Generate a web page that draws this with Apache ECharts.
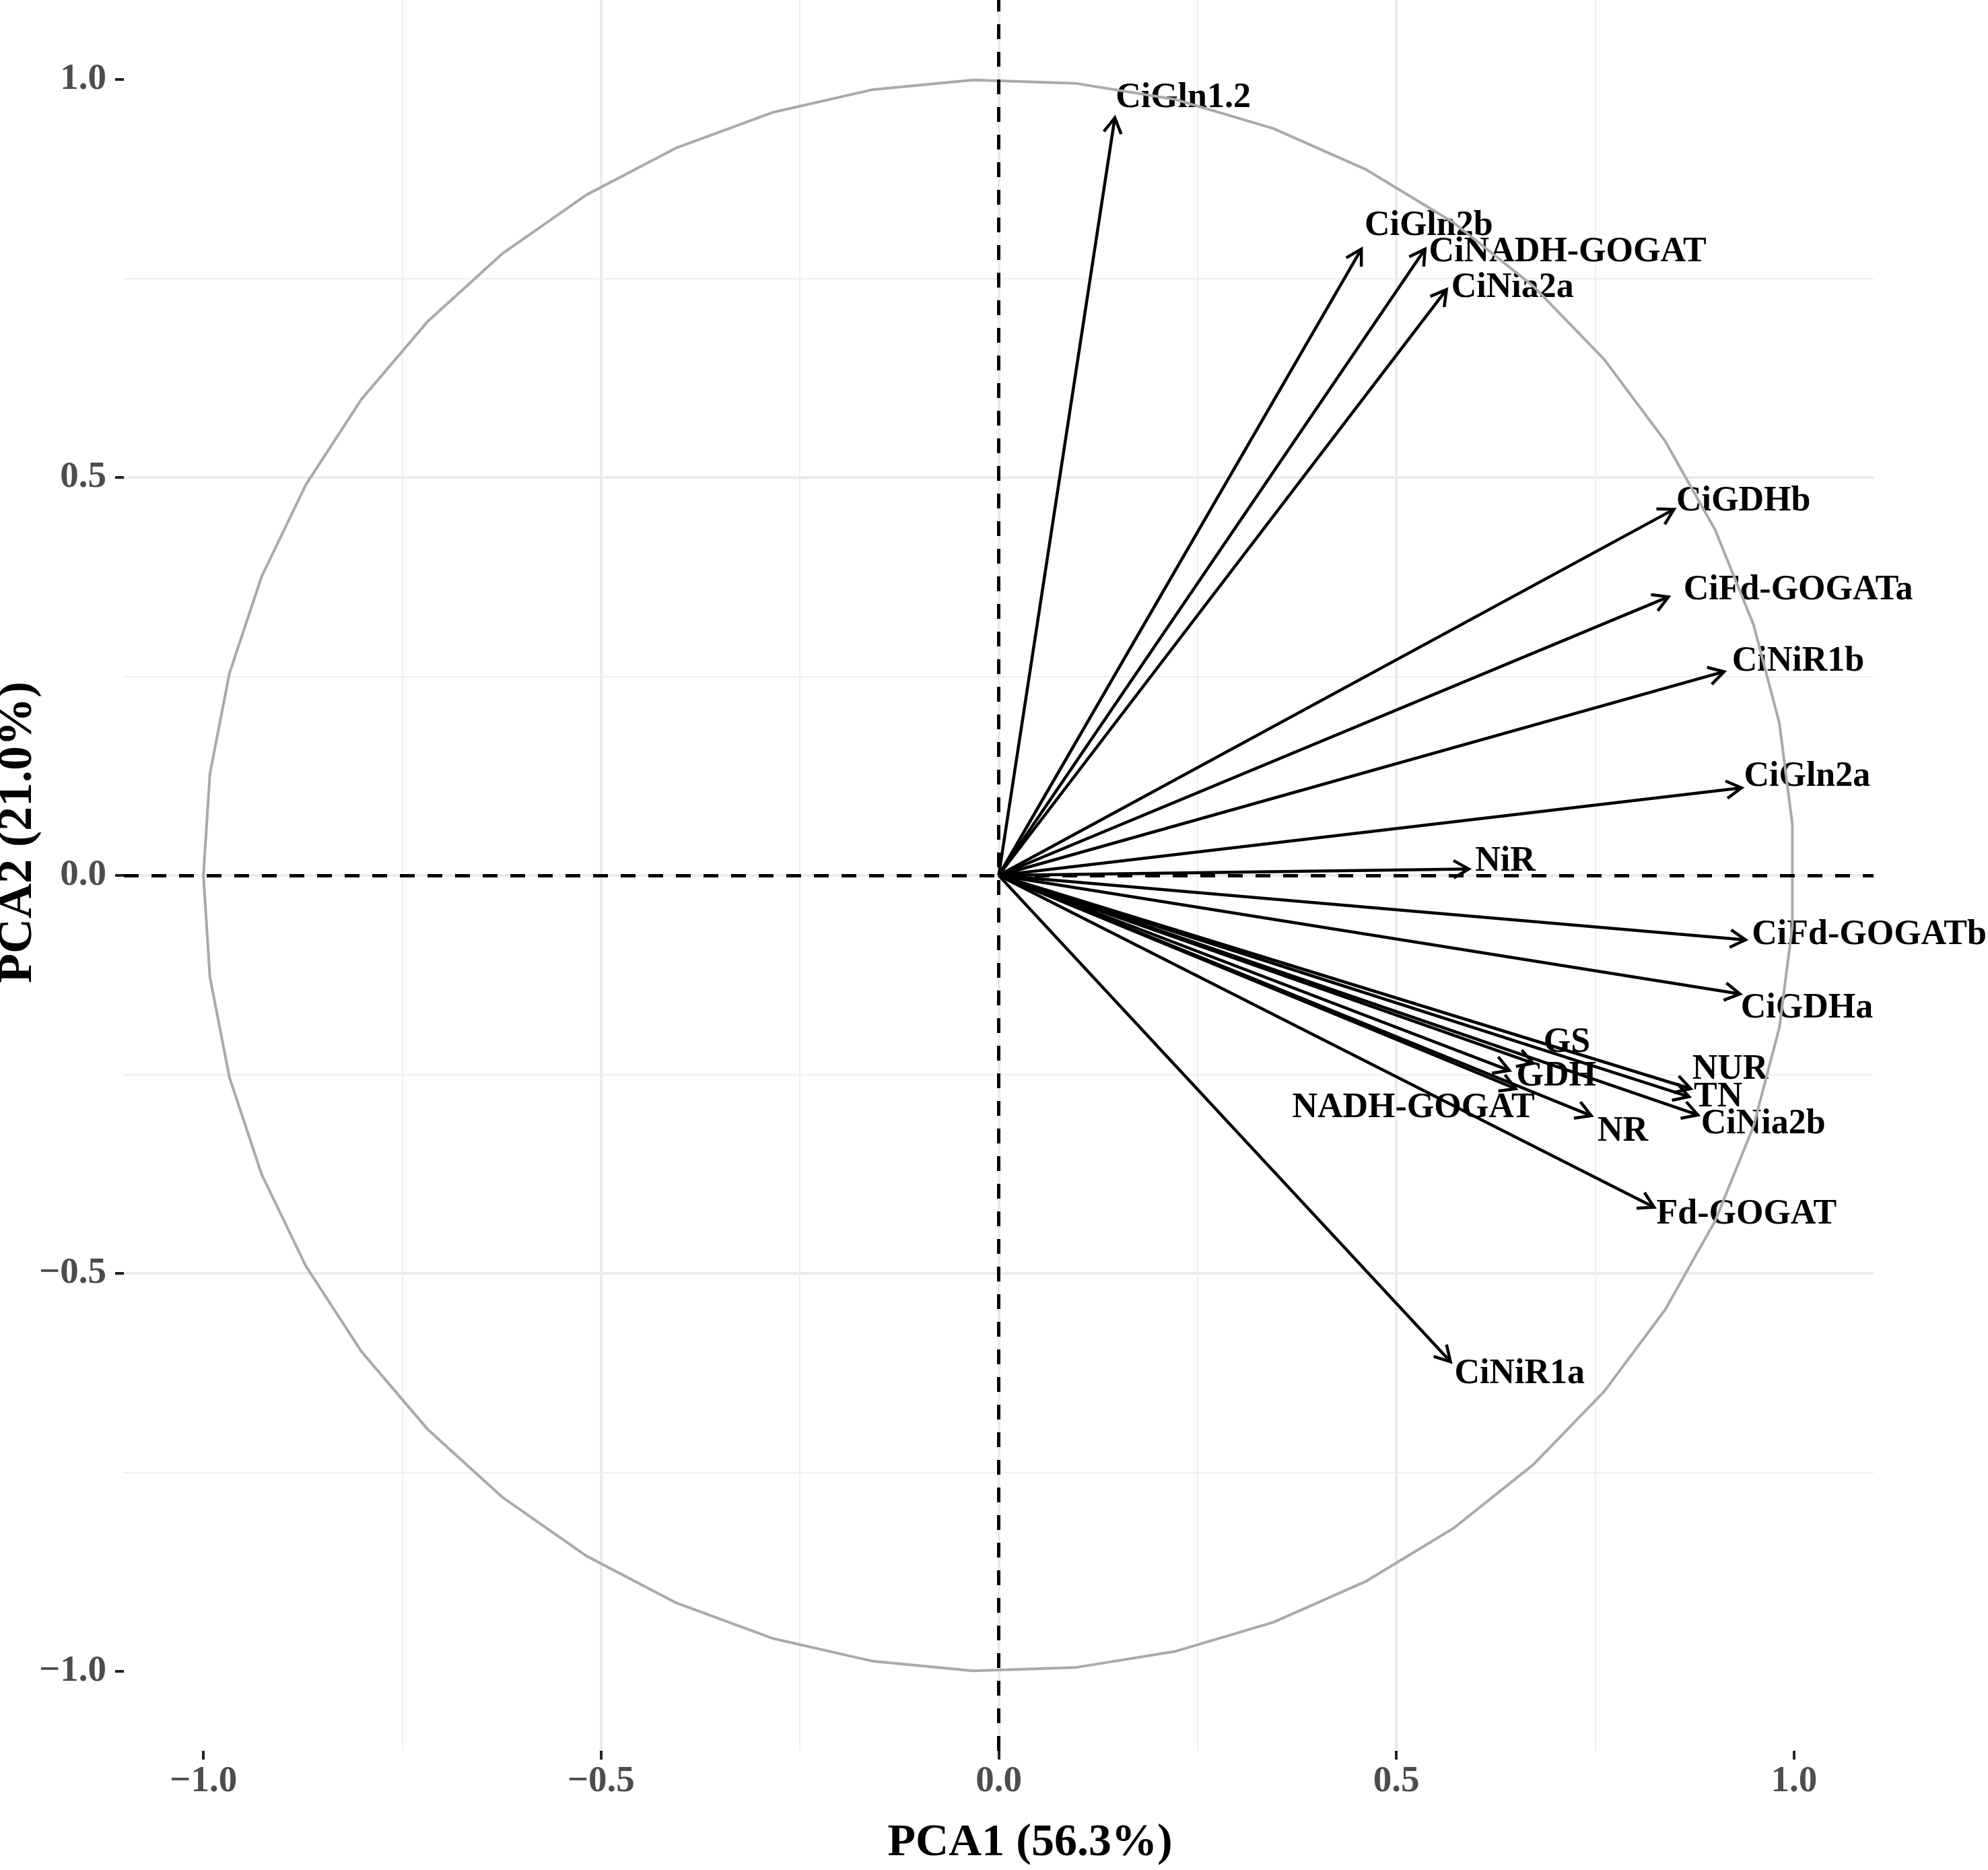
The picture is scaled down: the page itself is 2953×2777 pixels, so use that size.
<!DOCTYPE html>
<html>
<head>
<meta charset="utf-8">
<title>PCA loadings</title>
<script src="https://cdn.jsdelivr.net/npm/echarts@6.0.0/dist/echarts.min.js"></script>
<style>
  html, body { margin: 0; padding: 0; background: #fff; }
  #main { width: 2953px; height: 2777px; }
</style>
</head>
<body>
<div id="main"></div>
<script>
// variable loadings (arrow tips)
var varNames = ['CiGln1.2', 'CiGln2b', 'CiNADH-GOGAT', 'CiNia2a', 'CiGDHb', 'CiFd-GOGATa', 'CiNiR1b',
  'CiGln2a', 'NiR', 'CiFd-GOGATb', 'CiGDHa', 'GS', 'GDH', 'NADH-GOGAT', 'NUR', 'TN', 'CiNia2b',
  'NR', 'Fd-GOGAT', 'CiNiR1a'];
var pca1 = [0.146, 0.456, 0.536, 0.563, 0.849, 0.842, 0.912, 0.934, 0.591, 0.939, 0.932,
  0.672, 0.642, 0.650, 0.870, 0.868, 0.879, 0.745, 0.824, 0.568];
var pca2 = [0.952, 0.787, 0.787, 0.736, 0.460, 0.350, 0.256, 0.110, 0.008, -0.081, -0.149,
  -0.236, -0.245, -0.268, -0.268, -0.278, -0.301, -0.302, -0.417, -0.611];
// where each label sits (left edge, middle), repelled in the original
var labelX = [0.147, 0.460, 0.541, 0.569, 0.852, 0.861, 0.922, 0.937, 0.599, 0.947, 0.933,
  0.685, 0.651, 0.369, 0.872, 0.874, 0.883, 0.753, 0.827, 0.573];
var labelY = [0.977, 0.816, 0.783, 0.738, 0.470, 0.358, 0.269, 0.124, 0.017, -0.075, -0.167,
  -0.210, -0.253, -0.292, -0.244, -0.279, -0.313, -0.322, -0.426, -0.627];
var tickValues = [-1, -0.5, 0, 0.5, 1];
var xTitle = 'PCA1 (56.3%)';
var yTitle = 'PCA2 (21.0%)';

// unit correlation circle, 50 vertices
var circle = [];
for (var k = 0; k < 50; k++) {
  var t = Math.PI + k * 2 * Math.PI / 49;
  circle.push([Math.cos(t), Math.sin(t)]);
}

var arrowData = pca1.map(function (v, i) { return [v, pca2[i]]; });
var labelData = labelX.map(function (v, i) { return [v, labelY[i], varNames[i]]; });

function fmt(v) {
  var s = Math.abs(v).toFixed(1);
  return v < 0 ? '\u2212' + s : s;
}

var tickFont = { fontFamily: 'Liberation Serif', fontWeight: 'bold', fontSize: 55, color: '#4d4d4d' };

function axisCfg(pos, margin) {
  return {
    type: 'value',
    min: -1.1,
    max: 1.1,
    position: pos,
    axisLine: { show: false, onZero: false },
    axisTick: { show: true, length: 13, customValues: tickValues, lineStyle: { color: '#222', width: 4 } },
    axisLabel: Object.assign({ margin: margin, customValues: tickValues, formatter: fmt }, tickFont),
    splitLine: { show: true, showMinLine: false, showMaxLine: false, lineStyle: { color: '#ebebeb', width: 4 } },
    minorTick: { show: false, splitNumber: 2 },
    minorSplitLine: { show: true, lineStyle: { color: '#efefef', width: 2 } }
  };
}

var chart = echarts.init(document.getElementById('main'));
chart.setOption({
  backgroundColor: '#fff',
  animation: false,
  grid: { left: 184, right: 170, top: 0, bottom: 177 },
  xAxis: axisCfg('bottom', 18),
  yAxis: axisCfg('left', 26),
  graphic: [
    {
      type: 'text', x: 1530, y: 2737,
      style: { text: xTitle, font: 'bold 68px "Liberation Serif"', fill: '#000', align: 'center', verticalAlign: 'middle' }
    },
    {
      type: 'text', x: 27, y: 1236, rotation: Math.PI / 2,
      style: { text: yTitle, font: 'bold 72px "Liberation Serif"', fill: '#000', align: 'center', verticalAlign: 'middle' }
    }
  ],
  series: [
    {
      type: 'line',
      data: circle,
      showSymbol: false,
      silent: true,
      lineStyle: { color: '#aaaaaa', width: 4 },
      markLine: {
        silent: true,
        symbol: ['none', 'none'],
        label: { show: false },
        lineStyle: { color: '#000', width: 5, type: [22, 19] },
        data: [{ xAxis: 0 }, { yAxis: 0 }]
      }
    },
    {
      type: 'custom',
      data: arrowData,
      encode: { x: 0, y: 1 },
      silent: true,
      renderItem: function (params, api) {
        var p0 = api.coord([0, 0]);
        var p1 = api.coord([api.value(0), api.value(1)]);
        var ang = Math.atan2(p1[1] - p0[1], p1[0] - p0[0]);
        var L = 26, a = Math.PI / 6;
        var a1 = [p1[0] - L * Math.cos(ang - a), p1[1] - L * Math.sin(ang - a)];
        var a2 = [p1[0] - L * Math.cos(ang + a), p1[1] - L * Math.sin(ang + a)];
        return {
          type: 'group',
          children: [
            { type: 'line', shape: { x1: p0[0], y1: p0[1], x2: p1[0], y2: p1[1] },
              style: { stroke: '#000', lineWidth: 4.5 } },
            { type: 'polyline', shape: { points: [a1, p1, a2] },
              style: { stroke: '#000', fill: null, lineWidth: 4.5, lineJoin: 'miter' } }
          ]
        };
      }
    },
    {
      type: 'custom',
      data: labelData,
      encode: { x: 0, y: 1 },
      silent: true,
      renderItem: function (params, api) {
        var p = api.coord([api.value(0), api.value(1)]);
        return {
          type: 'text',
          x: p[0], y: p[1],
          style: {
            text: labelData[params.dataIndex][2],
            font: 'bold 52px "Liberation Serif"',
            fill: '#000', align: 'left', verticalAlign: 'middle'
          }
        };
      }
    }
  ]
});
</script>
</body>
</html>
